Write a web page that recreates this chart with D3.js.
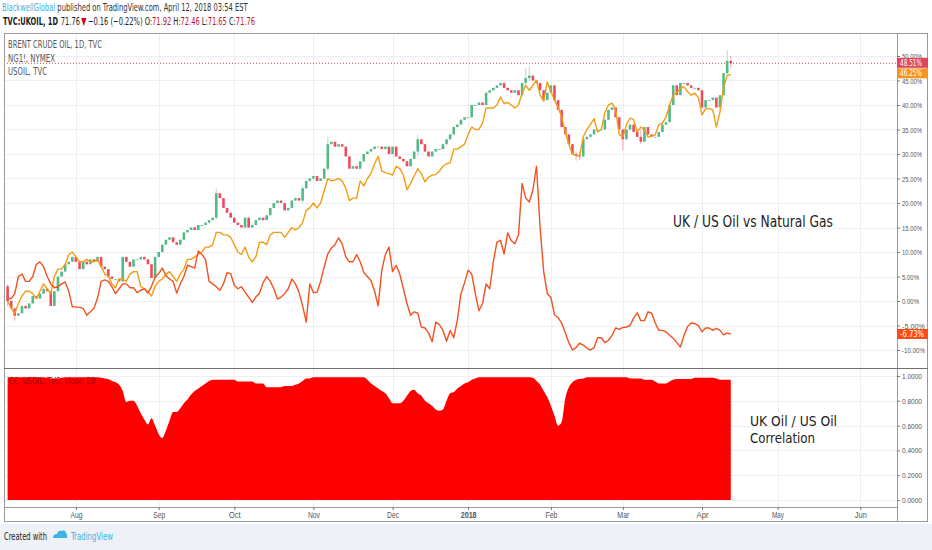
<!DOCTYPE html>
<html>
<head>
<meta charset="utf-8">
<script src="https://cdn.jsdelivr.net/npm/d3@7"></script>
<style>
  body { margin: 0; background: #fff; }
  svg { display: block; font-family: "Liberation Sans Narrow", "DejaVu Sans Condensed", "Liberation Sans", sans-serif; }
</style>
</head>
<body>
<svg id="chart" width="932" height="550"></svg>
<script>
// Brent closes, % change from first bar (TVC:UKOIL, daily)
const brentFirstOpen = 3;
const brent = [
  0, -1.5, -3, -2.5, -1, -1.5, -0.5, 1, 0.5, 1.5,
  2.5, 2, -1, 2, 5, 6, 7.5, 8, 9, 8,
  6.5, 8, 7.5, 8.5, 8, 9, 7, 6.5, 5, 4.5,
  4.5, 4, 9, 8, 7, 8.5, 8.5, 9, 8.5, 7.5,
  4.7, 9, 10, 11.5, 12.5, 13, 12, 11.5, 12.5, 14,
  14.5, 15, 14.5, 15.5, 15.5, 16, 16.5, 17, 22, 21,
  19, 18, 17, 16, 15.5, 15, 17, 15, 15.5, 16.5,
  17, 16.5, 17.5, 19, 20, 20.5, 20, 18.5, 19, 20.5,
  21, 20.5, 23, 24.5, 25, 25.5, 24.5, 25, 27, 32,
  32.5, 31.5, 32, 31.5, 29.5, 27, 27.5, 27, 28.5, 30,
  30.5, 31, 31.5, 31.5, 31, 31.5, 30, 31.5, 29.5, 29,
  28.5, 27.5, 29, 30.5, 33, 32, 30.5, 29.5, 30.5, 31,
  31, 32, 33, 34, 35.5, 36, 37, 37.5, 37.5, 40,
  40, 40.5, 40, 42.5, 43, 43.5, 44, 44.5, 43.5, 43,
  42.5, 43, 42, 44.5, 45.5, 46, 45, 44.5, 43, 41,
  42.5, 44, 41, 39, 35.5, 34, 32, 30, 29.7, 29.5,
  33, 33.5, 34, 35, 35, 35, 37, 39, 39.5, 37.5,
  35, 33, 35, 36, 34.5, 33.5, 32.5, 35.5, 34, 33.5,
  33.5, 34.5, 36, 36.5, 40, 44, 42, 44.5, 44.5, 44,
  43.5, 43.5, 43, 39.5, 41, 41, 41.5, 39.5, 42, 46.5,
  49, 48.51
];
// longer wicks: [bar, high, low]
const brentWicks = [
  [0, 3.5, -1], [2, -1.5, -4], [58, 23, 16.5], [82, 23.5, 20], [89, 33.5, 26.5],
  [114, 34, 29.5], [144, 47.5, 44], [145, 47.8, 45], [158, 30.5, 28.6], [159, 30.5, 28.8],
  [171, 35, 30.8], [176, 35, 32], [200, 51.2, 46], [201, 50, 47.5]
];
// USOIL, TVC
const usoil = [
  0, -1.5, -2.5, -0.5, 1, 2, 2, 1.5, 0.5, 2,
  3.5, 2.5, 1.5, 5, 6.5, 6.5, 7.5, 9.5, 10, 9,
  8, 8, 8.5, 8, 8, 8.5, 7, 5.5, 5, 3.5,
  2.7, 4.5, 4.5, 4, 5.5, 6, 6, 3, 2.5, 2,
  1, 3, 4, 4.5, 5.5, 6, 5, 4, 5.5, 6.5,
  8.5, 8.5, 9, 9.5, 10, 11, 11, 11.5, 14, 14,
  13.5, 13.5, 13, 11.5, 10, 9.5, 11, 9, 8, 9,
  12, 12, 11.5, 13.5, 14, 14, 14, 13, 14, 15,
  14.5, 15, 16, 18.5, 19, 20, 19, 20, 22.5, 25,
  24.5, 24.7, 25, 24.5, 23, 20.5, 21, 21, 24.5, 23.5,
  25, 26, 28, 29.5, 26.5, 26.2, 26, 25.7, 27.5, 27,
  25.7, 22.7, 24, 25.5, 27, 26, 24.3, 25.3, 25.7, 25.8,
  26.5, 27.5, 28, 28.2, 31, 31, 31.5, 32, 34, 35.5,
  35, 35, 36.3, 39.4, 39.4, 39.4, 40, 41.6, 40.3, 40.5,
  40, 39.4, 40, 42.4, 44, 43, 44, 45, 42, 40.8,
  44.7, 42.8, 41, 39.6, 37.5, 34.5, 32, 30, 29.7, 29.6,
  33.5, 35, 36, 37.2, 34.5, 35, 38.4, 40, 40.4, 39,
  34, 33.5, 36, 37.3, 37, 34.5, 35.5, 35, 33.5, 33.6,
  33.9, 36, 36.3, 37.5, 40, 42, 42.5, 43.5, 43.7, 42.7,
  42, 42.4, 41.5, 38, 39.2, 39.3, 39, 35.5, 38.6, 43.5,
  46, 46.25
];
// NG1!, NYMEX
const natgas = [
  0.5, 0.5, 1.5, 5, 5.5, 4, 4, 5, 7.5, 8,
  7, 5, 3.5, 2.7, 2.9, 3.5, 3.9, 2, -1.2, -1.2,
  -1.3, -1.5, -2.9, -2.2, -1.5, 0.6, 4, 4.3, 4, 2.9,
  1.5, 2.5, 3.5, 3.5, 2.7, 2.7, 1.7, 2.2, 2.5, 1.6,
  3, 4.9, 5.6, 6.7, 5.2, 4.5, 4, 1.6, 3.5, 5,
  7.3, 7, 6.7, 10.2, 9.5, 8.5, 4, 3.5, 2.9, 2.2,
  3.5, 5.8, 5.6, 3.2, 2.5, 2.9, 1.8, 0.8, -0.3, 0.8,
  1.6, 3.7, 5, 4, 2.5, 0.4, 0.8, 1.5, 2.5, 4.5,
  3.5, 1.8, -1, -4.3, 3.5, 1.7, 1.8, 4, 7, 9.6,
  10.8, 11.5, 12.9, 11.6, 9, 8, 8, 9.5, 8, 5.8,
  5, 4.2, 2, -1, 6.3, 9.5, 11, 6, 7.3, 5.5,
  2.5, -0.5, -2.9, -2.2, -2.5, -5.3, -5.5, -6.5, -8.3, -4.3,
  -4.8, -6, -8.2, -6, -7.5, -3.9, 1.5, 3.7, 6.3, 5.5,
  1.5, -2, -0.5, 3.5, 2.5, 8, 12, 12.4, 9.6, 13.9,
  12.3, 11.7, 13.5, 24, 21, 20.2, 22.6, 27.5, 15, 6,
  1.5, 0.7, -2.8, -3.4, -4.5, -6.5, -8.5, -10, -9.5, -8.6,
  -9, -9.6, -10, -9.5, -7.5, -7.5, -8.5, -8, -7, -5.5,
  -5.8, -5.4, -5.3, -5, -3.5, -2.4, -4, -4, -2.2, -2.5,
  -4.5, -6, -6, -6.3, -7, -7.6, -8.5, -9.4, -7, -5.2,
  -4.5, -4.6, -5, -6.3, -5.5, -5.5, -6, -5.6, -6, -6.9,
  -6.5, -6.73
];
// correlation UKOIL / USOIL, 20 bars
const corr = [
  0.99, 0.99, 0.99, 0.99, 0.99, 0.99, 0.99, 0.99, 0.99, 0.99,
  0.99, 0.985, 0.98, 0.98, 0.98, 0.985, 0.99, 0.99, 0.99, 0.99,
  0.99, 0.99, 0.99, 0.99, 0.99, 0.99, 0.985, 0.98, 0.975, 0.96,
  0.95, 0.93, 0.88, 0.79, 0.8, 0.8, 0.76, 0.7, 0.65, 0.61,
  0.66, 0.6, 0.53, 0.5, 0.56, 0.64, 0.71, 0.71, 0.74, 0.78,
  0.81, 0.85, 0.88, 0.9, 0.92, 0.94, 0.96, 0.97, 0.97, 0.97,
  0.97, 0.97, 0.97, 0.97, 0.955, 0.955, 0.955, 0.955, 0.955, 0.94,
  0.94, 0.94, 0.91, 0.91, 0.91, 0.91, 0.91, 0.92, 0.92, 0.92,
  0.93, 0.94, 0.96, 0.98, 0.98, 0.99, 0.99, 0.99, 0.99, 0.99,
  0.99, 0.99, 0.99, 0.99, 0.99, 0.99, 0.99, 0.99, 0.99, 0.99,
  0.97, 0.94, 0.92, 0.9, 0.88, 0.86, 0.82, 0.78, 0.78, 0.78,
  0.8, 0.84, 0.88, 0.89, 0.86, 0.84, 0.8, 0.78, 0.76, 0.73,
  0.72, 0.73, 0.8, 0.86, 0.87, 0.9, 0.92, 0.94, 0.95, 0.97,
  0.98, 0.99, 0.99, 0.99, 0.99, 0.99, 0.99, 0.99, 0.99, 0.99,
  0.99, 0.99, 0.99, 0.99, 0.99, 0.99, 0.985, 0.96, 0.93, 0.88,
  0.83, 0.76, 0.68, 0.6, 0.63, 0.82, 0.91, 0.95, 0.97, 0.975,
  0.98, 0.99, 0.99, 0.99, 0.99, 0.99, 0.99, 0.99, 0.99, 0.99,
  0.99, 0.99, 0.99, 0.98, 0.98, 0.98, 0.98, 0.97, 0.97, 0.97,
  0.955, 0.94, 0.94, 0.94, 0.955, 0.97, 0.975, 0.975, 0.975, 0.975,
  0.975, 0.985, 0.985, 0.985, 0.985, 0.985, 0.985, 0.98, 0.97, 0.97,
  0.97, 0.97
];

const tickDates = ["2017-08-01", "2017-09-01", "2017-10-02", "2017-11-01", "2017-12-01",
  "2018-01-01", "2018-02-01", "2018-03-01", "2018-04-02", "2018-05-01", "2018-06-01"];
const tickLabels = ["Aug", "Sep", "Oct", "Nov", "Dec", "2018", "Feb", "Mar", "Apr", "May", "Jun"];
const pctTicks = [-10, -5, 0, 5, 10, 15, 20, 25, 30, 35, 40, 45, 50];
const corrTicks = [0, 0.2, 0.4, 0.6, 0.8, 1];

// trading days (weekdays) from the first bar
const parse = d3.timeParse("%Y-%m-%d");
const days = d3.timeDay.range(parse("2017-07-05"), parse("2018-07-01")).filter(d => d.getDay() % 6 !== 0);
const dayIndex = s => days.findIndex(d => +d === +parse(s));

const svg = d3.select("#chart");

const L = 4, R = 928, axisX = 897;
const paneTop = 33, paneSep = 368, paneBottom = 507, frameBottom = 522;

const x = d3.scaleLinear().domain([-1, 247.2]).range([L, axisX]);
const yMain = d3.scaleLinear().domain([-13.67, 54.69]).range([paneSep, paneTop]);
const yCorr = d3.scaleLinear().domain([-0.0565, 1.0645]).range([paneBottom, paneSep]);

const upColor = "#53b987", downColor = "#eb4d5c";
const usoilColor = "#f39c12", ngColor = "#f4511e";

// squeeze a text into a given width
const fit = (sel, w) => sel.attr("textLength", w).attr("lengthAdjust", "spacingAndGlyphs");

// lay out coloured pieces side by side, then squeeze the row to a width
function row(parent, pieces, x0, y0, width) {
  const g = parent.append("g");
  let cx = 0;
  pieces.forEach(p => {
    const t = g.append("text").attr("x", cx).attr("y", 0).attr("fill", p.c)
      .attr("font-weight", p.w || null).text(p.t);
    cx += t.node().getComputedTextLength() + (p.gap || 0);
  });
  g.attr("transform", `translate(${x0},${y0}) scale(${width / cx},1)`);
}

// footer band
svg.append("rect").attr("x", 0).attr("y", 524).attr("width", 932).attr("height", 26).attr("fill", "#eef1f6");

// clip paths
const defs = svg.append("defs");
defs.append("clipPath").attr("id", "clipMain").append("rect")
  .attr("x", L).attr("y", paneTop).attr("width", axisX - L).attr("height", paneSep - paneTop);
defs.append("clipPath").attr("id", "clipCorr").append("rect")
  .attr("x", L).attr("y", paneSep).attr("width", axisX - L).attr("height", paneBottom - paneSep);

// grid
const tickIdx = tickDates.map(dayIndex);
const grid = svg.append("g").attr("stroke", "#edf0f3").attr("stroke-width", 1);
grid.selectAll("line.v").data(tickIdx).enter().append("line")
  .attr("x1", d => Math.round(x(d)) + 0.5).attr("x2", d => Math.round(x(d)) + 0.5)
  .attr("y1", paneTop).attr("y2", paneBottom);
grid.selectAll("line.h").data(pctTicks).enter().append("line")
  .attr("x1", L).attr("x2", axisX)
  .attr("y1", d => Math.round(yMain(d)) + 0.5).attr("y2", d => Math.round(yMain(d)) + 0.5);
grid.selectAll("line.c").data(corrTicks).enter().append("line")
  .attr("x1", L).attr("x2", axisX)
  .attr("y1", d => Math.round(yCorr(d)) + 0.5).attr("y2", d => Math.round(yCorr(d)) + 0.5);

// main pane
const main = svg.append("g").attr("clip-path", "url(#clipMain)");

// last-price dotted line
main.append("line")
  .attr("x1", L).attr("x2", axisX)
  .attr("y1", yMain(brent[brent.length - 1])).attr("y2", yMain(brent[brent.length - 1]))
  .attr("stroke", "#e0455a").attr("stroke-width", 1).attr("stroke-dasharray", "1,2");

const wickMap = new Map(brentWicks.map(w => [w[0], w]));
const candles = brent.map((c, i) => {
  const o = i === 0 ? brentFirstOpen : brent[i - 1];
  const w = wickMap.get(i);
  return { i, o, c, h: w ? w[1] : Math.max(o, c), l: w ? w[2] : Math.min(o, c) };
});

const cg = main.append("g").attr("class", "candles");
cg.selectAll("line").data(candles).enter().append("line")
  .attr("x1", d => x(d.i)).attr("x2", d => x(d.i))
  .attr("y1", d => yMain(d.h)).attr("y2", d => yMain(d.l))
  .attr("stroke", d => d.c >= d.o ? upColor : downColor)
  .attr("stroke-opacity", 0.6).attr("stroke-width", 0.8);
cg.selectAll("rect").data(candles).enter().append("rect")
  .attr("x", d => x(d.i) - 1.3)
  .attr("width", 2.6)
  .attr("y", d => yMain(Math.max(d.o, d.c)))
  .attr("height", d => Math.max(0.8, Math.abs(yMain(d.o) - yMain(d.c))))
  .attr("fill", d => d.c >= d.o ? upColor : downColor);

const line = arr => d3.line().x((d, i) => x(i)).y(d => yMain(d))(arr);
main.append("path").attr("d", line(usoil)).attr("fill", "none")
  .attr("stroke", usoilColor).attr("stroke-width", 1.4).attr("stroke-linejoin", "round");
main.append("path").attr("d", line(natgas)).attr("fill", "none")
  .attr("stroke", ngColor).attr("stroke-width", 1.4).attr("stroke-linejoin", "round");

// correlation pane
const cp = svg.append("g").attr("clip-path", "url(#clipCorr)");
cp.append("path")
  .attr("d", d3.area().x((d, i) => x(i)).y0(yCorr(0)).y1(d => yCorr(d)).curve(d3.curveMonotoneX)(corr))
  .attr("fill", "#ff0000");

// frame and separators
svg.append("rect").attr("x", L + 0.5).attr("y", paneTop + 0.5).attr("width", R - L - 1).attr("height", frameBottom - paneTop - 1)
  .attr("fill", "none").attr("stroke", "#9a9a9a");
svg.append("line").attr("x1", axisX + 0.5).attr("x2", axisX + 0.5).attr("y1", paneTop).attr("y2", frameBottom)
  .attr("stroke", "#9a9a9a");
svg.append("line").attr("x1", L).attr("x2", R).attr("y1", paneSep + 0.5).attr("y2", paneSep + 0.5)
  .attr("stroke", "#6f6f6f");
svg.append("line").attr("x1", L).attr("x2", axisX).attr("y1", paneBottom + 0.5).attr("y2", paneBottom + 0.5)
  .attr("stroke", "#9a9a9a");

// axes
function styleAxis(g) {
  g.select(".domain").remove();
  g.selectAll(".tick line").attr("stroke", "#777");
  g.selectAll(".tick text").attr("fill", "#555").attr("font-size", 8);
}
svg.append("g").attr("transform", `translate(${axisX},0)`)
  .call(d3.axisRight(yMain).tickValues(pctTicks).tickFormat(d => d.toFixed(2) + "%").tickSize(3).tickPadding(2))
  .call(styleAxis)
  .selectAll(".tick text").each(function (d) { fit(d3.select(this), d < 0 ? 23 : (d >= 10 ? 20 : 17)); });
svg.append("g").attr("transform", `translate(${axisX},0)`)
  .call(d3.axisRight(yCorr).tickValues(corrTicks).tickFormat(d => d.toFixed(4)).tickSize(3).tickPadding(2))
  .call(styleAxis)
  .selectAll(".tick text").each(function () { fit(d3.select(this), 20); });
svg.append("g").attr("transform", `translate(0,${paneBottom})`)
  .call(d3.axisBottom(x).tickValues(tickIdx).tickFormat((d, i) => tickLabels[i]).tickSize(3).tickPadding(2))
  .call(styleAxis)
  .selectAll(".tick text")
  .attr("font-size", 9)
  .attr("font-weight", (d, i) => tickLabels[i] === "2018" ? "bold" : null)
  .each(function (d, i) { fit(d3.select(this), tickLabels[i] === "2018" ? 16 : 12); });

// last value labels
const lastLabels = [
  { v: brent[brent.length - 1], fill: "#e0455a", nudge: -0.5 },
  { v: usoil[usoil.length - 1], fill: "#f7941d", nudge: -1 },
  { v: natgas[natgas.length - 1], fill: "#ff4a12", nudge: 0 }
];
const lbl = svg.append("g").selectAll("g").data(lastLabels).enter().append("g")
  .attr("transform", d => `translate(${axisX},${yMain(d.v) + d.nudge})`);
lbl.append("rect").attr("x", 0).attr("y", -5).attr("width", 31).attr("height", 10).attr("fill", d => d.fill);
lbl.append("text").attr("x", 3).attr("y", 3)
  .attr("fill", "#fff").attr("font-size", 8).text(d => d.v.toFixed(2) + "%")
  .each(function (d) { fit(d3.select(this), d.v < 0 ? 24 : 22); });

// header
const hdr = svg.append("g").attr("font-size", 11);
row(hdr, [
  { t: "BlackwellGlobal", c: "#3bb3e4", gap: 3 },
  { t: "published on TradingView.com, April 12, 2018 03:54 EST", c: "#333" }
], 2, 11, 246);
row(hdr, [
  { t: "TVC:UKOIL, 1D", c: "#222", w: "bold", gap: 4 },
  { t: "71.76", c: "#222", gap: 2 },
  { t: "\u25BC", c: "#d0021b", gap: 2 },
  { t: "\u22120.16 (\u22120.22%)", c: "#222", gap: 3 },
  { t: "O:", c: "#222" }, { t: "71.92", c: "#c8102e", gap: 3 },
  { t: "H:", c: "#222" }, { t: "72.46", c: "#c8102e", gap: 3 },
  { t: "L:", c: "#222" }, { t: "71.65", c: "#c8102e", gap: 3 },
  { t: "C:", c: "#222" }, { t: "71.76", c: "#c8102e" }
], 3, 25, 252);

// legends
const leg = svg.append("g").attr("font-size", 10).attr("fill", "#555");
fit(leg.append("text").attr("x", 8).attr("y", 48).text("BRENT CRUDE OIL, 1D, TVC"), 94);
fit(leg.append("text").attr("x", 8).attr("y", 62).text("NG1!, NYMEX"), 47);
fit(leg.append("text").attr("x", 8).attr("y", 75).text("USOIL, TVC"), 39);
fit(svg.append("text").attr("x", 9).attr("y", 384).attr("font-size", 9).attr("fill", "#9b0000")
  .text("CC, USOIL, TVC, close, 20"), 86);

// annotations
const ann = svg.append("g").attr("fill", "#222")
  .attr("font-family", "'DejaVu Sans Condensed', 'Liberation Sans Narrow', sans-serif");
fit(ann.append("text").attr("x", 673).attr("y", 227).attr("font-size", 15).text("UK / US Oil vs Natural Gas"), 160);
fit(ann.append("text").attr("x", 750).attr("y", 426).attr("font-size", 14.5).text("UK Oil / US Oil"), 87);
fit(ann.append("text").attr("x", 750).attr("y", 443).attr("font-size", 14.5).text("Correlation"), 65);

// footer
const ft = svg.append("g").attr("font-size", 11);
fit(ft.append("text").attr("x", 4).attr("y", 540).attr("fill", "#222").text("Created with"), 43);
ft.append("path").attr("transform", "translate(53,529)")
  .attr("d", "M0,9 Q0,5 4,5 Q5,1 9,2 Q12,0 13,4 Q15,6 14,9 Z")
  .attr("fill", "#3bb3e4");
fit(ft.append("text").attr("x", 71).attr("y", 540).attr("fill", "#3bb3e4").text("TradingView"), 42);
</script>
</body>
</html>
